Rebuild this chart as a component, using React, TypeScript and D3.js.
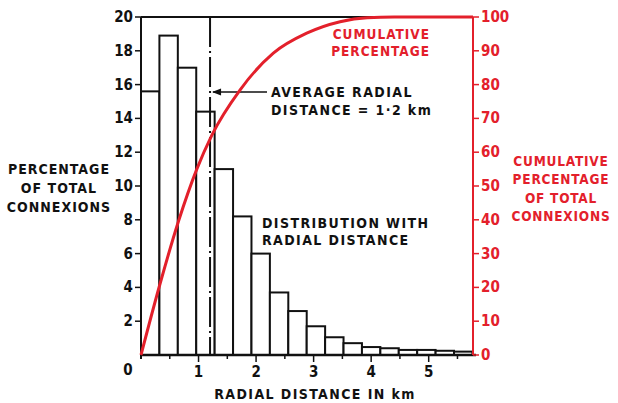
import React, { useRef, useEffect } from 'react'
import * as d3 from 'd3'

// histogram: percentage of total connexions per radial-distance bin
const binWidth = 0.32
const binPercent = [15.6, 18.9, 17.0, 14.4, 11.0, 8.2, 6.0, 3.7, 2.6, 1.7, 1.05, 0.7, 0.47, 0.4, 0.3, 0.3, 0.25, 0.2]

// cumulative curve
const cumDistance = [0, 0.33, 0.65, 0.97, 1.23, 1.72, 2.3, 2.88, 3.46, 3.93, 4.4, 5.77]
const cumPercent = [0, 21, 39.5, 55, 65, 78.4, 89.3, 95.2, 98.6, 99.8, 100, 100]

const leftTicks = [2, 4, 6, 8, 10, 12, 14, 16, 18, 20]
const rightTicks = [0, 10, 20, 30, 40, 50, 60, 70, 80, 90, 100]
const xMajorTicks = [1, 2, 3, 4, 5]
const xMinorTicks = [0.5, 1.5, 2.5, 3.5, 4.5, 5.5]
const averageDistance = 1.2

const RED = '#e3202b'
const FONT = '"DejaVu Sans Condensed", "DejaVu Sans", sans-serif'

export default function App() {
  const svgRef = useRef<SVGSVGElement>(null)

  useEffect(() => {
    if (!svgRef.current) return
    const svg = d3.select(svgRef.current)
    svg.selectAll('*').remove()

    const x = d3.scaleLinear().domain([0, 5.77]).range([141, 473])
    const yL = d3.scaleLinear().domain([0, 20]).range([355, 17])
    const yR = d3.scaleLinear().domain([0, 100]).range([355, 17])

    const text = (t: string, px: number, py: number, opts: any = {}) =>
      svg.append('text')
        .attr('x', px).attr('y', py)
        .attr('font-family', FONT).attr('font-weight', 'bold')
        .attr('font-size', opts.size || 14)
        .attr('letter-spacing', opts.ls ?? 1.4)
        .attr('text-anchor', opts.anchor || 'start')
        .attr('dominant-baseline', 'central')
        .attr('fill', opts.fill || '#111')
        .text(t)

    // bars
    svg.append('g')
      .selectAll('rect')
      .data(binPercent)
      .join('rect')
      .attr('x', (_, i) => x(i * binWidth))
      .attr('y', d => yL(d))
      .attr('width', x(binWidth) - x(0))
      .attr('height', d => yL(0) - yL(d))
      .attr('fill', 'white')
      .attr('stroke', '#111')
      .attr('stroke-width', 2)

    // frame: left axis, top, bottom
    svg.append('line').attr('x1', x(0)).attr('x2', x(0)).attr('y1', yL(20)).attr('y2', yL(0) + 4)
      .attr('stroke', '#111').attr('stroke-width', 2)
    svg.append('line').attr('x1', x(0)).attr('x2', x(5.77)).attr('y1', yL(20)).attr('y2', yL(20))
      .attr('stroke', '#111').attr('stroke-width', 2)
    svg.append('line').attr('x1', x(0)).attr('x2', x(5.77) + 3).attr('y1', yL(0)).attr('y2', yL(0))
      .attr('stroke', '#111').attr('stroke-width', 2.5)

    // left ticks
    leftTicks.forEach(t => {
      svg.append('line').attr('x1', x(0) - 6).attr('x2', x(0)).attr('y1', yL(t)).attr('y2', yL(t))
        .attr('stroke', '#111').attr('stroke-width', 1.5)
      text(String(t), x(0) - 8, yL(t), { anchor: 'end', size: 15, ls: 0 })
    })
    text('0', x(0) - 13, yL(0) + 15, { anchor: 'middle', size: 15, ls: 0 })

    // x ticks
    xMajorTicks.forEach(t => {
      svg.append('line').attr('x1', x(t)).attr('x2', x(t)).attr('y1', yL(0)).attr('y2', yL(0) + 7)
        .attr('stroke', '#111').attr('stroke-width', 1.5)
      text(String(t), x(t), yL(0) + 17, { anchor: 'middle', size: 15, ls: 0 })
    })
    xMinorTicks.forEach(t => {
      svg.append('line').attr('x1', x(t)).attr('x2', x(t)).attr('y1', yL(0)).attr('y2', yL(0) + 4)
        .attr('stroke', '#111').attr('stroke-width', 1.5)
    })

    // average line (dash-dot)
    svg.append('line')
      .attr('x1', x(averageDistance)).attr('x2', x(averageDistance))
      .attr('y1', yL(20)).attr('y2', yL(0))
      .attr('stroke', '#111').attr('stroke-width', 2)
      .attr('stroke-dasharray', '30,4,2,4')

    // arrow to average line
    const arrowY = 92
    svg.append('line').attr('x1', x(averageDistance) + 3).attr('x2', 267).attr('y1', arrowY).attr('y2', arrowY)
      .attr('stroke', '#111').attr('stroke-width', 1.5)
    svg.append('path')
      .attr('d', `M${x(averageDistance) + 2},${arrowY} l9,-3.5 l0,7 z`)
      .attr('fill', '#111')

    // cumulative curve
    const line = d3.line<number>()
      .x((_, i) => x(cumDistance[i]))
      .y(d => yR(d))
      .curve(d3.curveMonotoneX)
    svg.append('path')
      .datum(cumPercent)
      .attr('d', line)
      .attr('fill', 'none')
      .attr('stroke', RED)
      .attr('stroke-width', 3)

    // right axis
    svg.append('line').attr('x1', x(5.77)).attr('x2', x(5.77)).attr('y1', yR(100)).attr('y2', yR(0))
      .attr('stroke', RED).attr('stroke-width', 2)
    rightTicks.forEach(t => {
      svg.append('line').attr('x1', x(5.77)).attr('x2', x(5.77) + 6).attr('y1', yR(t)).attr('y2', yR(t))
        .attr('stroke', RED).attr('stroke-width', 1.5)
      text(String(t), x(5.77) + 8, yR(t), { size: 15, ls: 0, fill: RED })
    })

    // annotations
    text('AVERAGE RADIAL', 271, 92)
    text('DISTANCE = 1·2 km', 271, 110)
    text('CUMULATIVE', 430, 34, { anchor: 'end', fill: RED, size: 13.5, ls: 1 })
    text('PERCENTAGE', 430, 51, { anchor: 'end', fill: RED, size: 13.5, ls: 1 })
    text('DISTRIBUTION WITH', 262, 223)
    text('RADIAL DISTANCE', 262, 240)

    const leftLabel = ['PERCENTAGE', 'OF TOTAL', 'CONNEXIONS']
    leftLabel.forEach((t, i) => text(t, 59, 169 + i * 19, { anchor: 'middle', ls: 1 }))
    const rightLabel = ['CUMULATIVE', 'PERCENTAGE', 'OF TOTAL', 'CONNEXIONS']
    rightLabel.forEach((t, i) => text(t, 561, 161 + i * 18.3, { anchor: 'middle', fill: RED, size: 13.5, ls: 0.8 }))

    text('RADIAL DISTANCE IN km', 315, 394, { anchor: 'middle' })
  }, [])

  return (
    <svg ref={svgRef} width={618} height={403}
      style={{ position: 'absolute', left: 0, top: 0, background: 'white' }} />
  )
}
